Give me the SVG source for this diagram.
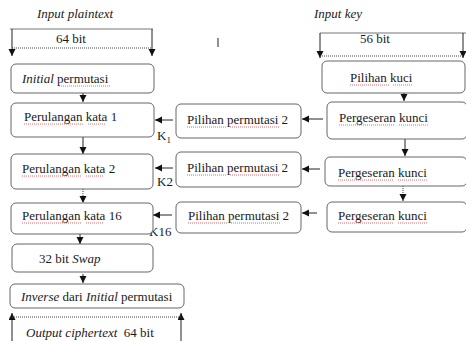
<svg xmlns="http://www.w3.org/2000/svg" width="466" height="341" viewBox="0 0 466 341" font-family="'Liberation Serif', 'DejaVu Serif', serif">
<style>
text{font-family:'Liberation Serif','DejaVu Serif',serif;font-size:13px;fill:#1a1a1a}
.it{font-style:italic}
.box{fill:#fff;stroke:#666;stroke-width:1}
.ln{stroke:#222;stroke-width:1;fill:none}
.gl{stroke:#777;stroke-width:1;fill:none}
.dot{stroke:#444;stroke-width:1;stroke-dasharray:1,1;fill:none}
.sq{stroke:#d44;stroke-width:0.8;stroke-dasharray:1,1;fill:none}
</style>
<defs>
<marker id="ah" markerUnits="userSpaceOnUse" markerWidth="8" markerHeight="8" refX="7" refY="3.5" orient="auto">
<path d="M0,0 L7,3.5 L0,7 z" fill="#111"/>
</marker>
</defs>
<rect width="466" height="341" fill="#fff"/>

<g id="labels">
<text x="37" y="18" class="it">Input plaintext</text>
<text x="56" y="43">64 bit</text>
<text x="314" y="18" class="it">Input key</text>
<text x="360" y="43">56 bit</text>
<text x="26" y="337"><tspan class="it">Output ciphertext</tspan>&#160; 64 bit</text>
<text x="157" y="140">K<tspan font-size="9" dy="3">1</tspan></text>
<text x="157" y="186">K2</text>
<text x="149" y="236">K16</text>
<line x1="218" y1="38" x2="218" y2="47" stroke="#222" stroke-width="1"/>
</g>

<g id="connectors">
<line class="gl" x1="10" y1="29" x2="153" y2="29"/>
<line class="ln" x1="12" y1="29" x2="12" y2="56" marker-end="url(#ah)"/>
<line class="ln" x1="152" y1="29" x2="152" y2="56" marker-end="url(#ah)"/>
<line class="dot" x1="12" y1="48" x2="152" y2="48"/>

<line class="gl" x1="320" y1="33" x2="466" y2="33"/>
<line class="ln" x1="320" y1="33" x2="320" y2="58" marker-end="url(#ah)"/>
<line class="ln" x1="463" y1="33" x2="463" y2="58" marker-end="url(#ah)"/>
<line class="dot" x1="320" y1="56" x2="463" y2="56"/>

<line class="ln" x1="83" y1="93" x2="83" y2="102" marker-end="url(#ah)"/>
<line class="ln" x1="83" y1="137" x2="83" y2="154" marker-end="url(#ah)"/>
<line class="dot" x1="83" y1="189" x2="83" y2="203" marker-end="url(#ah)"/>
<line class="ln" x1="80" y1="225" x2="80" y2="244" marker-end="url(#ah)"/>
<line class="ln" x1="83" y1="274" x2="83" y2="283" marker-end="url(#ah)"/>

<line class="ln" x1="12" y1="341" x2="12" y2="313" marker-end="url(#ah)"/>
<line class="ln" x1="181" y1="341" x2="181" y2="313" marker-end="url(#ah)"/>
<line class="dot" x1="12" y1="317" x2="181" y2="317"/>

<line class="ln" x1="404" y1="93" x2="404" y2="101" marker-end="url(#ah)"/>
<line class="ln" x1="405" y1="139" x2="405" y2="156" marker-end="url(#ah)"/>
<line class="dot" x1="403" y1="186" x2="403" y2="201" marker-end="url(#ah)"/>

<line class="ln" x1="173" y1="120" x2="155" y2="120" marker-end="url(#ah)"/>
<line class="ln" x1="173" y1="168" x2="155" y2="168" marker-end="url(#ah)"/>
<line class="ln" x1="172" y1="215" x2="153" y2="215" marker-end="url(#ah)"/>
<line class="ln" x1="323" y1="119" x2="302" y2="119" marker-end="url(#ah)"/>
<line class="ln" x1="320" y1="169" x2="302" y2="169" marker-end="url(#ah)"/>
<line class="ln" x1="317" y1="213" x2="302" y2="213" marker-end="url(#ah)"/>
</g>

<g id="initial">
<rect class="box" x="11" y="64" width="143" height="29" rx="5"/>
<text x="22" y="83"><tspan class="it">Initial</tspan> permutasi</text>
<line class="sq" x1="59" y1="86" x2="110" y2="86"/>
</g>
<g id="round1">
<rect class="box" x="11" y="103" width="143" height="34" rx="5"/>
<text x="24" y="121">Perulangan kata 1</text>
<line class="sq" x1="24" y1="124" x2="84" y2="124"/><line class="sq" x1="88" y1="124" x2="106" y2="124"/>
</g>
<g id="round2">
<rect class="box" x="11" y="154" width="142" height="35" rx="5"/>
<text x="22" y="173">Perulangan kata 2</text>
<line class="sq" x1="22" y1="176" x2="82" y2="176"/><line class="sq" x1="86" y1="176" x2="104" y2="176"/>
</g>
<g id="round16">
<rect class="box" x="11" y="203" width="142" height="31" rx="5"/>
<text x="22" y="220">Perulangan kata 16</text>
<line class="sq" x1="22" y1="223" x2="82" y2="223"/><line class="sq" x1="86" y1="223" x2="104" y2="223"/>
</g>
<g id="swap">
<rect class="box" x="12" y="244" width="141" height="28" rx="5"/>
<text x="39" y="263">32 bit <tspan class="it">Swap</tspan></text>
</g>
<g id="inverse">
<rect class="box" x="10" y="284" width="174" height="24" rx="5"/>
<text x="21" y="301"><tspan class="it">Inverse</tspan> dari <tspan class="it">Initial</tspan> permutasi</text>
</g>

<g id="pc2a">
<rect class="box" x="176" y="104" width="125" height="34" rx="5"/>
<text x="187" y="124">Pilihan permutasi 2</text>
<line class="sq" x1="187" y1="127" x2="226" y2="127"/><line class="sq" x1="230" y1="127" x2="279" y2="127"/>
</g>
<g id="pc2b">
<rect class="box" x="176" y="152" width="125" height="35" rx="5"/>
<text x="187" y="172">Pilihan permutasi 2</text>
<line class="sq" x1="187" y1="175" x2="226" y2="175"/><line class="sq" x1="230" y1="175" x2="279" y2="175"/>
</g>
<g id="pc2c">
<rect class="box" x="176" y="202" width="125" height="31" rx="5"/>
<text x="188" y="220">Pilihan permutasi 2</text>
<line class="sq" x1="188" y1="223" x2="227" y2="223"/><line class="sq" x1="231" y1="223" x2="280" y2="223"/>
</g>

<g id="pc1">
<rect class="box" x="322" y="61" width="143" height="32" rx="5"/>
<text x="350" y="82">Pilihan kuci</text>
<line class="sq" x1="350" y1="85" x2="389" y2="85"/><line class="sq" x1="393" y1="85" x2="413" y2="85"/>
</g>
<g id="shift1">
<rect class="box" x="327" y="102" width="140" height="37" rx="5"/>
<text x="339" y="122">Pergeseran kunci</text>
<line class="sq" x1="339" y1="125" x2="395" y2="125"/><line class="sq" x1="399" y1="125" x2="428" y2="125"/>
</g>
<g id="shift2">
<rect class="box" x="325" y="157" width="142" height="29" rx="5"/>
<text x="338" y="177">Pergeseran kunci</text>
<line class="sq" x1="338" y1="180" x2="394" y2="180"/><line class="sq" x1="398" y1="180" x2="427" y2="180"/>
</g>
<g id="shift3">
<rect class="box" x="327" y="202" width="140" height="30" rx="5"/>
<text x="338" y="220">Pergeseran kunci</text>
<line class="sq" x1="338" y1="223" x2="394" y2="223"/><line class="sq" x1="398" y1="223" x2="427" y2="223"/>
</g>
</svg>
